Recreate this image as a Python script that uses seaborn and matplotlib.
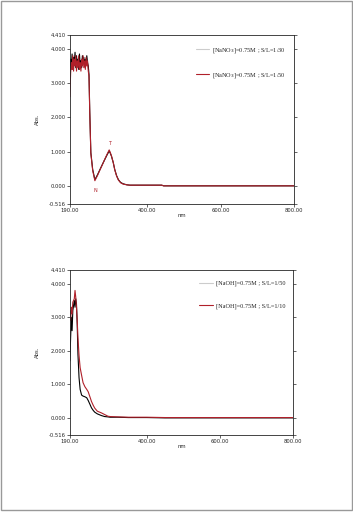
import matplotlib
matplotlib.use("Agg")
import matplotlib.pyplot as plt
import seaborn as sns
import pandas as pd
from matplotlib.patches import Rectangle
from matplotlib.lines import Line2D
from matplotlib.ticker import FormatStrFormatter

# top spectrum (NaNO3)
top_nm = [190, 192, 194, 196, 198, 200, 202, 204, 206, 208, 210, 212, 214, 216, 218,
          220, 222, 224, 226, 228, 230, 232, 234, 236, 238, 240, 242,
          244, 247, 252, 258, 265, 272, 279, 285, 291, 297, 300, 303, 308, 312, 317,
          322, 328, 335, 345, 353, 380, 420, 440, 445, 500, 600, 700, 800]
top_a = [3.2, 3.7, 3.5, 3.85, 3.4, 3.75, 3.6, 3.9, 3.45, 3.8, 3.5, 3.7, 3.4, 3.85, 3.55,
         3.65, 3.45, 3.8, 3.6, 3.75, 3.5, 3.7, 3.55, 3.8, 3.6, 3.5, 3.25,
         2.2, 0.97, 0.48, 0.18, 0.32, 0.48, 0.64, 0.77, 0.9, 1.02, 0.95, 0.87, 0.68, 0.48, 0.3,
         0.18, 0.1, 0.06, 0.03, 0.02, 0.02, 0.02, 0.02, 0.0, 0.0, 0.0, 0.0, 0.0]
top_b = [2.6, 3.3, 3.6, 3.4, 3.8, 3.35, 3.7, 3.5, 3.8, 3.35, 3.65, 3.45, 3.8, 3.4, 3.6,
         3.35, 3.7, 3.5, 3.8, 3.45, 3.65, 3.4, 3.75, 3.5, 3.65, 3.35, 3.2,
         2.15, 0.95, 0.45, 0.15, 0.3, 0.47, 0.63, 0.78, 0.92, 1.05, 0.97, 0.88, 0.68, 0.47, 0.29,
         0.17, 0.09, 0.05, 0.03, 0.02, 0.02, 0.02, 0.02, 0.0, 0.0, 0.0, 0.0, 0.0]
top_labels = ["[NaNO$_3$]=0.75M ; S/L=1/30", "[NaNO$_3$]=0.75M ; S/L=1/50"]

# bottom spectrum (NaOH)
bot_nm = [190, 192, 194, 196, 198, 200, 202, 204, 206, 208, 210, 212, 215, 218, 222, 226,
          231, 236, 240, 245, 249, 254, 258, 265, 276, 285, 294, 300, 320, 350, 400, 450,
          500, 600, 700, 800]
bot_a = [1.7, 2.4, 3.0, 2.6, 3.2, 3.35, 3.5, 3.3, 3.55, 3.4, 2.8, 1.9, 1.2, 0.85, 0.68, 0.65,
         0.63, 0.6, 0.52, 0.4, 0.3, 0.22, 0.17, 0.12, 0.07, 0.04, 0.03, 0.02, 0.02, 0.01, 0.01, 0.0,
         0.0, 0.0, 0.0, 0.0]
bot_b = [3.2, 2.9, 3.3, 3.1, 3.45, 3.5, 3.55, 3.8, 3.6, 3.3, 2.9, 2.4, 1.86, 1.5, 1.27, 1.05,
         0.93, 0.85, 0.78, 0.62, 0.49, 0.37, 0.29, 0.2, 0.15, 0.1, 0.05, 0.04, 0.03, 0.02, 0.02, 0.01,
         0.01, 0.01, 0.01, 0.01]
bot_labels = ["[NaOH]=0.75M ; S/L=1/50", "[NaOH]=0.75M ; S/L=1/10"]

y_ticks = [-0.516, 0, 1, 2, 3, 4, 4.41]
x_ticks = [190, 400, 600, 800]
RED = '#b0202a'

sns.set_style("ticks")
plt.rcParams['font.family'] = ['DejaVu Sans']

fig = plt.figure(figsize=(3.53, 5.12), dpi=100)
fig.patches.append(Rectangle((0.002, 0.004), 0.994, 0.994, transform=fig.transFigure,
                             fill=False, edgecolor='#999999', linewidth=1.0))


def draw(ax, nm, a, b, labels):
    df = pd.DataFrame({'nm': nm * 2, 'Abs.': a + b,
                       'serie': [labels[0]] * len(nm) + [labels[1]] * len(nm)})
    pal = {labels[0]: 'black', labels[1]: RED}
    sns.lineplot(data=df, x='nm', y='Abs.', hue='serie', hue_order=labels, palette=pal,
                 linewidth=0.8, ax=ax, sort=False, legend=False)
    ax.set_xlim(190, 800)
    ax.set_ylim(-0.516, 4.41)
    ax.set_xticks(x_ticks)
    ax.set_yticks(y_ticks)
    ax.xaxis.set_major_formatter(FormatStrFormatter('%.2f'))
    ax.yaxis.set_major_formatter(FormatStrFormatter('%.3f'))
    ax.tick_params(labelsize=3.8, length=2, width=0.5, pad=1, right=True)
    for s in ax.spines.values():
        s.set_linewidth(0.6)
    ax.set_xlabel('nm', fontsize=3.8, labelpad=0)
    ax.set_ylabel('Abs.', fontsize=3.8, labelpad=6)
    handles = [Line2D([], [], color='#cccccc', lw=0.8), Line2D([], [], color=RED, lw=0.8)]
    ax.legend(handles, labels, loc='upper right', bbox_to_anchor=(0.99, 0.97), frameon=False,
              prop={'family': 'Liberation Serif', 'size': 4.5},
              labelspacing=2.6, handlelength=2.2, handletextpad=0.5)


ax1 = fig.add_axes([0.198, 0.6025, 0.635, 0.3295])
draw(ax1, top_nm, top_a, top_b, top_labels)
ax1.text(258, -0.05, 'N', color=RED, fontsize=3.5, ha='center', va='top')
ax1.text(297, 1.15, 'T', color=RED, fontsize=3.5, ha='center', va='bottom')

ax2 = fig.add_axes([0.198, 0.150, 0.632, 0.3227])
draw(ax2, bot_nm, bot_a, bot_b, bot_labels)

fig.savefig('out.png', dpi=100)
